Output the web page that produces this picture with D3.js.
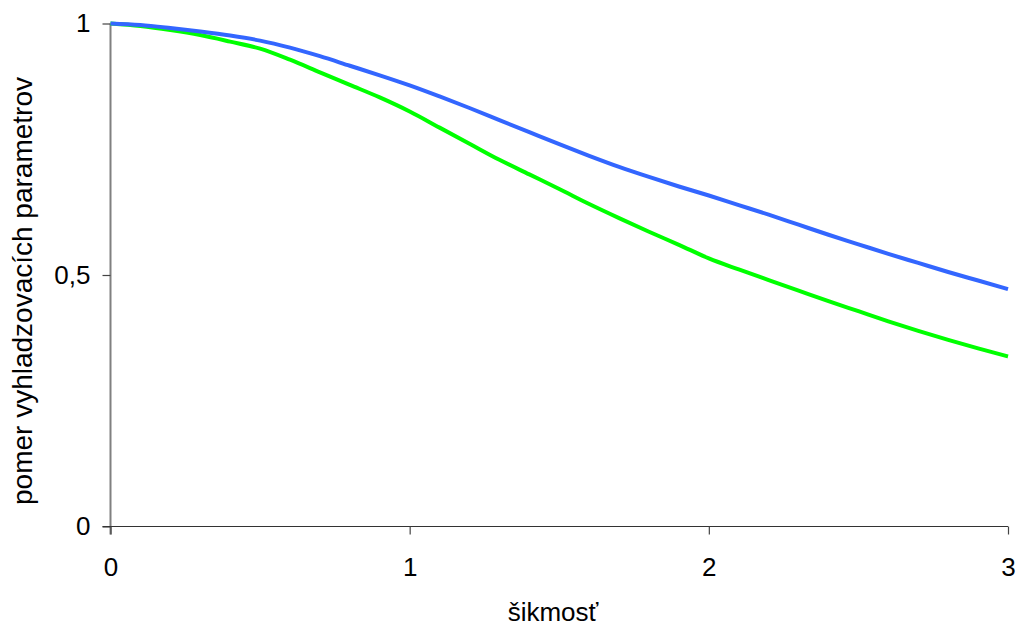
<!DOCTYPE html>
<html>
<head>
<meta charset="utf-8">
<script src="https://cdn.jsdelivr.net/npm/d3@7"></script>
<style>
  html, body { margin: 0; padding: 0; background: #fff; }
  svg { display: block; font-family: Arial, "Liberation Sans", sans-serif; }
</style>
</head>
<body>
<svg id="chart" width="1018" height="626"></svg>
<script>
// skewness values (x) shared by both curves
const skew = [0, 0.1, 0.2, 0.3, 0.4, 0.5, 0.6, 0.7, 0.8, 0.9, 1.0,
              1.1, 1.2, 1.3, 1.4, 1.5, 1.6, 1.7, 1.8, 1.9, 2.0,
              2.1, 2.2, 2.3, 2.4, 2.5, 2.6, 2.7, 2.8, 2.9, 3.0];
// ratio of smoothing parameters, upper curve
const ratioBlue = [1.000, 0.997, 0.991, 0.984, 0.976, 0.966, 0.952, 0.935, 0.916, 0.897, 0.877,
                   0.855, 0.832, 0.808, 0.784, 0.760, 0.737, 0.715, 0.695, 0.676, 0.658,
                   0.639, 0.620, 0.600, 0.580, 0.561, 0.542, 0.524, 0.506, 0.489, 0.472];
// ratio of smoothing parameters, lower curve
const ratioGreen = [1.000, 0.995, 0.987, 0.977, 0.964, 0.950, 0.928, 0.903, 0.878, 0.853, 0.825,
                    0.793, 0.761, 0.729, 0.700, 0.671, 0.641, 0.613, 0.586, 0.560, 0.533,
                    0.511, 0.490, 0.469, 0.448, 0.428, 0.408, 0.389, 0.371, 0.354, 0.338];
const xTicks = [0, 1, 2, 3];
const yTicks = [0, 0.5, 1];
const xTitle = "šikmosť";
const yTitle = "pomer vyhladzovacích parametrov";

const svg = d3.select("#chart");
const x = d3.scaleLinear().domain([0, 3]).range([110.5, 1008]);
const y = d3.scaleLinear().domain([0, 1]).range([526.5, 23.5]);
const fmt = d => String(d).replace(".", ",");
const labelFont = "Arial, 'Liberation Sans', sans-serif";

// y axis
const gy = svg.append("g").attr("transform", `translate(${x(0)},0)`)
  .call(d3.axisLeft(y).tickValues(yTicks).tickSize(8).tickPadding(12).tickFormat(fmt));
gy.select(".domain").attr("stroke", "#808080").attr("stroke-width", 2).attr("d", `M0,${y(1)}V${y(0)+8}`);
gy.selectAll(".tick line").attr("stroke", "#444").attr("stroke-width", 1.2);
gy.selectAll(".tick text").attr("font-size", 26).attr("fill", "#000").attr("font-family", labelFont);

// x axis
const gx = svg.append("g").attr("transform", `translate(0,${y(0)})`)
  .call(d3.axisBottom(x).tickValues(xTicks).tickSize(8).tickPadding(23).tickFormat(fmt));
gx.select(".domain").attr("stroke", "#333").attr("stroke-width", 1.2).attr("d", `M${x(0)-8},0H${x(3)}`);
gx.selectAll(".tick line").attr("stroke", "#444").attr("stroke-width", 1.2);
gx.selectAll(".tick text").attr("font-size", 26).attr("fill", "#000").attr("font-family", labelFont);

// curves
const line = vals => d3.line()
  .x((d, i) => x(skew[i]))
  .y(d => y(d))
  .curve(d3.curveMonotoneX)(vals);

svg.append("path").attr("d", line(ratioGreen))
  .attr("fill", "none").attr("stroke", "#00ff00").attr("stroke-width", 4);
svg.append("path").attr("d", line(ratioBlue))
  .attr("fill", "none").attr("stroke", "#3366ff").attr("stroke-width", 4);

// axis titles
svg.append("text").attr("x", 553).attr("y", 621).attr("text-anchor", "middle")
  .attr("font-size", 26).text(xTitle);
svg.append("text").attr("transform", "translate(32,291) rotate(-90)")
  .attr("text-anchor", "middle").attr("font-size", 28).text(yTitle);
</script>
</body>
</html>
